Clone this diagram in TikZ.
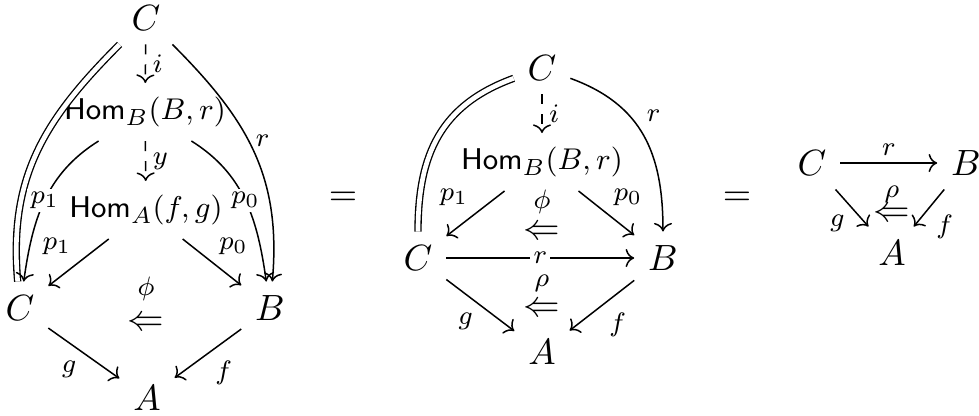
\documentclass[tikz,border=0pt]{standalone}
\usepackage{amsmath}
\usetikzlibrary{arrows.meta}
\tikzset{
  cell/.style={
    inner sep=4pt,
    font=\fontsize{11}{13}\selectfont
  },
  homcell/.style={
    inner sep=4pt,
    font=\fontsize{9.4}{11}\selectfont
  },
  map/.style={
    -{Computer Modern Rightarrow},
    line width=0.45pt
  },
  dmap/.style={
    map,
    dashed
  },
  eq/.style={
    double,
    double distance=1.4pt,
    line width=0.4pt
  },
  lbl/.style={
    font=\footnotesize,
    inner sep=2pt
  },
  desc/.style={
    font=\footnotesize,
    inner sep=1pt,
    fill=white
  },
  twocell/.style={
    inner sep=0pt,
    font=\fontsize{11}{13}\selectfont
  }
}

\begin{document}
\begin{tikzpicture}[x=0.3pt, y=-0.3pt]
  \useasboundingbox (0,0) rectangle (979,415);

  % left diagram
  \node[cell] (c1) at (146,18) {$C$};
  \node[homcell] (hb1) at (145,112) {$\mathsf{Hom}_B(B,r)$};
  \node[homcell] (ha1) at (146,210) {$\mathsf{Hom}_A(f,g)$};
  \node[cell] (c2) at (20,308) {$C$};
  \node[cell] (b1) at (270,308) {$B$};
  \node[cell] (a1) at (147,398) {$A$};
  \node[twocell] (t1) at (146,324) {$\Leftarrow$};
  \node[twocell, font=\footnotesize] (phi1) at (146,289) {$\phi$};

  \draw[dmap] (c1) -- node[lbl, right] {$i$} (hb1);
  \draw[dmap] (hb1) -- node[lbl, right] {$y$} (ha1);
  \draw[map] (ha1) -- node[lbl, above left] {$p_1$} (c2);
  \draw[map] (ha1) -- node[lbl, above right] {$p_0$} (b1);
  \draw[map] (c2) -- node[lbl, below left] {$g$} (a1);
  \draw[map] (b1) -- node[lbl, below right] {$f$} (a1);
  \draw[eq] (c1) to[out=225, in=95, looseness=1.05] (c2);
  \draw[map] (hb1) to[out=212, in=82] node[desc, pos=0.5] {$p_1$} (c2);
  \draw[map] (c1) to[out=-45, in=85, looseness=1.05] node[lbl, pos=0.45, right] {$r$} (b1);
  \draw[map] (hb1) to[out=-32, in=98] node[desc, pos=0.5] {$p_0$} (b1);

  \node[cell] (e1) at (343,199) {$=$};

  % middle diagram
  \node[cell] (c3) at (542,68) {$C$};
  \node[homcell] (hb2) at (542,162) {$\mathsf{Hom}_B(B,r)$};
  \node[cell] (c4) at (418,258) {$C$};
  \node[cell] (b2) at (663,258) {$B$};
  \node[cell] (a2) at (542,352) {$A$};
  \node[twocell] (t2) at (542,233) {$\Leftarrow$};
  \node[twocell, font=\footnotesize] (phi2) at (542,202) {$\phi$};
  \node[twocell] (t3) at (542,310) {$\Leftarrow$};
  \node[twocell, font=\footnotesize] (rho2) at (542,283) {$\rho$};

  \draw[dmap] (c3) -- node[lbl, right] {$i$} (hb2);
  \draw[map] (hb2) -- node[lbl, above left] {$p_1$} (c4);
  \draw[map] (hb2) -- node[lbl, above right] {$p_0$} (b2);
  \draw[map] (c4) -- node[desc] {$r$} (b2);
  \draw[map] (c4) -- node[lbl, below left] {$g$} (a2);
  \draw[map] (b2) -- node[lbl, below right] {$f$} (a2);
  \draw[eq] (c3) to[out=200, in=90, looseness=1.1] (c4);
  \draw[map] (c3) to[out=-20, in=90, looseness=1.1] node[lbl, pos=0.45, above right] {$r$} (b2);

  \node[cell] (e2) at (737,199) {$=$};

  % right diagram
  \node[cell] (c5) at (812,163) {$C$};
  \node[cell] (b3) at (966,163) {$B$};
  \node[cell] (a3) at (892,253) {$A$};
  \node[twocell] (t4) at (892,215) {$\Leftarrow$};
  \node[twocell, font=\footnotesize] (rho3) at (892,194) {$\rho$};

  \draw[map] (c5) -- node[lbl, above] {$r$} (b3);
  \draw[map] (c5) -- node[lbl, below left] {$g$} (a3);
  \draw[map] (b3) -- node[lbl, below right] {$f$} (a3);
\end{tikzpicture}
\end{document}
